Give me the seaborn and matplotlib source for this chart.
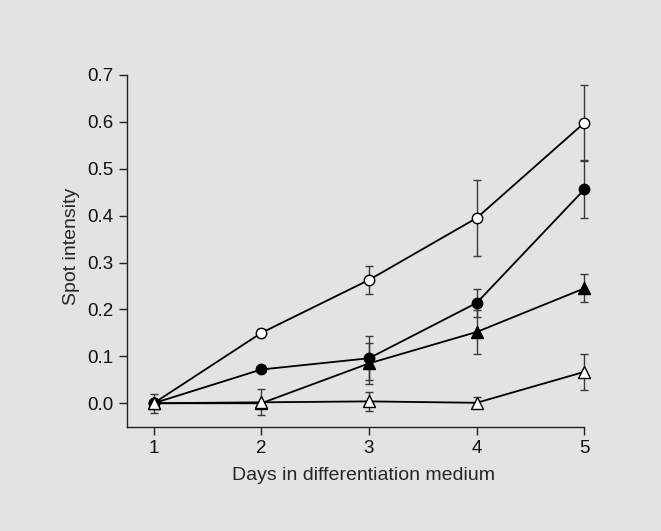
import numpy as np
import pandas as pd
import matplotlib
matplotlib.use("Agg")
import matplotlib.pyplot as plt
import seaborn as sns

days = [1, 2, 3, 4, 5]

# four series (mean, error)
open_circle = [0.0, 0.150, 0.263, 0.395, 0.598]
open_circle_err = [0.0, 0.008, 0.030, 0.080, 0.080]
filled_circle = [0.0, 0.072, 0.096, 0.214, 0.456]
filled_circle_err = [0.0, 0.0, 0.047, 0.030, 0.060]
filled_tri = [0.0, 0.0, 0.085, 0.152, 0.245]
filled_tri_err = [0.0, 0.0, 0.043, 0.046, 0.030]
open_tri = [0.0, 0.002, 0.004, 0.001, 0.067]
open_tri_err = [0.020, 0.028, 0.020, 0.012, 0.038]

bg = "#e3e3e3"
sns.set_style("ticks")
plt.rcParams["font.family"] = ["Liberation Sans", "DejaVu Sans"]

fig = plt.figure(figsize=(6.61, 5.31), dpi=100, facecolor=bg)
ax = fig.add_axes([0.1917, 0.1964, 0.7168, 0.6801])
ax.set_facecolor(bg)

series = [
    (open_circle, open_circle_err, "o", "white"),
    (filled_circle, filled_circle_err, "o", "black"),
    (filled_tri, filled_tri_err, "^", "black"),
    (open_tri, open_tri_err, "^", "white"),
]

for vals, errs, mk, fc in series:
    df = pd.DataFrame({"day": days, "val": vals})
    ax.errorbar(days, vals, yerr=errs, fmt="none", ecolor="#3a3a3a",
                elinewidth=1.0, capsize=3, capthick=1.0, zorder=2, clip_on=False)
    sns.lineplot(data=df, x="day", y="val", ax=ax, color="black", lw=1.3,
                 marker=mk, markersize=7.5 if mk == "o" else 8.5,
                 markerfacecolor=fc, markeredgecolor="black",
                 markeredgewidth=1.0, zorder=3, clip_on=False)

ax.set_xlim(0.75, 5.15)
ax.set_ylim(-0.05, 0.72)
ax.set_xticks(days)
ax.set_yticks(np.arange(0, 0.71, 0.1))
ax.set_yticklabels([f"{v:.1f}" for v in np.arange(0, 0.71, 0.1)])
ax.spines["right"].set_visible(False)
ax.spines["top"].set_visible(False)
ax.spines["bottom"].set_bounds(0.75, 5)
ax.spines["left"].set_bounds(-0.05, 0.7)
for s in ["left", "bottom"]:
    ax.spines[s].set_linewidth(1.0)
    ax.spines[s].set_color("#222222")
ax.tick_params(direction="out", length=6, width=1.0, labelsize=13.5,
               color="#222222", labelcolor="#111111")
ax.set_xlabel("Days in differentiation medium", fontsize=14, labelpad=7)
ax.set_ylabel("Spot intensity", fontsize=14, labelpad=5)

fig.savefig("out.png", dpi=100, facecolor=bg)
